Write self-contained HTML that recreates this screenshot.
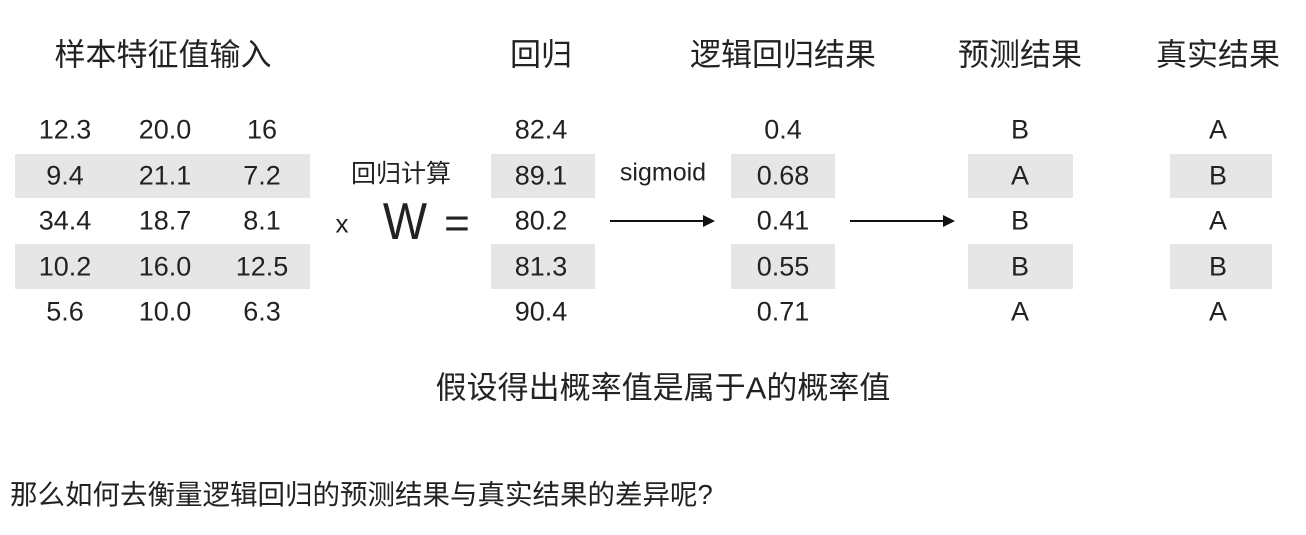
<!DOCTYPE html>
<html><head><meta charset="utf-8"><style>
body{margin:0;width:1306px;height:535px;background:#fff;overflow:hidden;font-family:"Liberation Sans","Noto Sans CJK SC",sans-serif;color:#222;position:relative}
.t{position:absolute;transform:translate(-50%,-50%);white-space:nowrap}
.b{position:absolute;background:#e6e6e6}
.h{font-size:31px}
.n{font-size:27px}
.a{position:absolute;height:2px;background:#111}
.a:after{content:"";position:absolute;right:-2px;top:-5px;border-left:12px solid #111;border-top:6px solid transparent;border-bottom:6px solid transparent}
</style></head><body>
<div class="b" style="left:15px;top:154px;width:295px;height:44px"></div>
<div class="b" style="left:15px;top:244px;width:295px;height:45px"></div>
<div class="b" style="left:491px;top:154px;width:104px;height:44px"></div>
<div class="b" style="left:491px;top:244px;width:104px;height:45px"></div>
<div class="b" style="left:731px;top:154px;width:104px;height:44px"></div>
<div class="b" style="left:731px;top:244px;width:104px;height:45px"></div>
<div class="b" style="left:968px;top:154px;width:105px;height:44px"></div>
<div class="b" style="left:968px;top:244px;width:105px;height:45px"></div>
<div class="b" style="left:1170px;top:154px;width:102px;height:44px"></div>
<div class="b" style="left:1170px;top:244px;width:102px;height:45px"></div>

<div class="t h" style="left:163px;top:52px">样本特征值输入</div>
<div class="t h" style="left:541px;top:52px">回归</div>
<div class="t h" style="left:783px;top:52px">逻辑回归结果</div>
<div class="t h" style="left:1020px;top:52px">预测结果</div>
<div class="t h" style="left:1218px;top:52px">真实结果</div>

<div id="cells"></div>

<div class="t" style="left:401px;top:172px;font-size:25px">回归计算</div>
<div class="t" style="left:342px;top:224px;font-size:26px">x</div>
<div class="t" style="left:405px;top:222px;font-size:52px;font-weight:300;transform:translate(-50%,-50%) scaleX(0.9)">W</div>
<div class="t" style="left:457px;top:224px;font-size:44px">=</div>
<div class="t" style="left:663px;top:173px;font-size:25px">sigmoid</div>
<div class="a" style="left:610px;top:220px;width:103px"></div>
<div class="a" style="left:850px;top:220px;width:103px"></div>

<div class="t" style="left:663px;top:385px;font-size:31px">假设得出概率值是属于A的概率值</div>
<div class="t" style="left:10px;top:492px;transform:translateY(-50%);font-size:27.5px">那么如何去衡量逻辑回归的预测结果与真实结果的差异呢?</div>

<script>
const feat1=["12.3","9.4","34.4","10.2","5.6"];
const feat2=["20.0","21.1","18.7","16.0","10.0"];
const feat3=["16","7.2","8.1","12.5","6.3"];
const regression=["82.4","89.1","80.2","81.3","90.4"];
const logistic=["0.4","0.68","0.41","0.55","0.71"];
const prediction=["B","A","B","B","A"];
const truth=["A","B","A","B","A"];
const cols=[[feat1,65,'feature1'],[feat2,165,'feature2'],[feat3,262,'feature3'],[regression,541,'regression'],[logistic,783,'logistic'],[prediction,1020,'prediction'],[truth,1218,'truth']];
const rowY=i=>130+i*45.5;
const host=document.getElementById('cells');
cols.forEach(([arr,x,nm])=>arr.forEach((v,i)=>{
  const d=document.createElement('div');
  d.className='t n';
  d.style.left=x+'px';d.style.top=rowY(i)+'px';
  d.textContent=v;
  
  
  host.appendChild(d);
}));
</script>
</body></html>
